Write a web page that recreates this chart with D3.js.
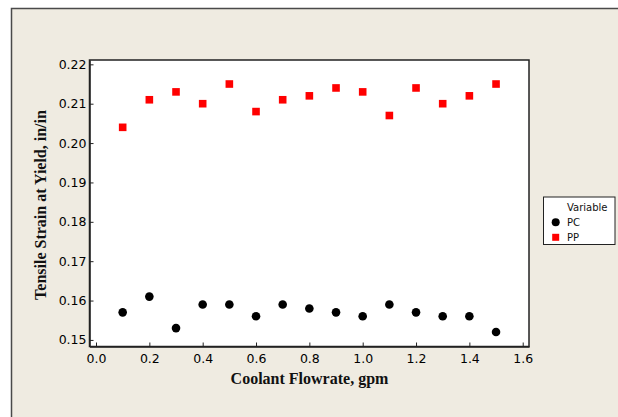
<!DOCTYPE html>
<html>
<head>
<meta charset="utf-8">
<script src="https://cdn.jsdelivr.net/npm/d3@7"></script>
<style>
  body { margin: 0; background: #fff; }
  svg { display: block; }
</style>
</head>
<body>
<div id="chart"></div>
<script>
// Tensile strain vs coolant flowrate - scatter

const flowrate = [0.1, 0.2, 0.3, 0.4, 0.5, 0.6, 0.7, 0.8, 0.9, 1.0, 1.1, 1.2, 1.3, 1.4, 1.5];
const pcValues = [0.157, 0.161, 0.153, 0.159, 0.159, 0.156, 0.159, 0.158, 0.157, 0.156, 0.159, 0.157, 0.156, 0.156, 0.152];
const ppValues = [0.204, 0.211, 0.213, 0.210, 0.215, 0.208, 0.211, 0.212, 0.214, 0.213, 0.207, 0.214, 0.210, 0.212, 0.215];
const xTicks = [0.0, 0.2, 0.4, 0.6, 0.8, 1.0, 1.2, 1.4, 1.6];
const yTicks = [0.15, 0.16, 0.17, 0.18, 0.19, 0.20, 0.21, 0.22];
const seriesNames = ['PC', 'PP'];

const width = 618;
const height = 417;
const plot = { left: 89.5, top: 60, right: 529, bottom: 346.5 };

const svg = d3.select('#chart')
    .append('svg')
    .attr('width', width)
    .attr('height', height);

// figure background + frame
svg.append('rect')
    .attr('x', 11).attr('y', 8.5)
    .attr('width', width).attr('height', height)
    .style('fill', '#efebe1');
svg.append('path')
    .attr('d', `M11.5,${height} V8.5 H${width}`)
    .style('fill', 'none')
    .style('stroke', '#4a4a4a')
    .style('stroke-width', 1.5);

const x = d3.scaleLinear().domain([-0.0244, 1.6236]).range([plot.left, plot.right]);
const y = d3.scaleLinear().domain([0.14833, 0.2211]).range([plot.bottom, plot.top]);

// plot area
svg.append('rect')
    .attr('x', plot.left).attr('y', plot.top)
    .attr('width', plot.right - plot.left)
    .attr('height', plot.bottom - plot.top)
    .style('fill', '#fff')
    .style('stroke', '#222')
    .style('stroke-width', 1.5);

// axes (ticks drawn inward)
const xAxis = svg.append('g')
    .attr('transform', `translate(0,${plot.bottom})`)
    .call(d3.axisBottom(x).tickValues(xTicks).tickFormat(d3.format('.1f'))
        .tickSizeInner(-4).tickSizeOuter(0).tickPadding(8));

const yAxis = svg.append('g')
    .attr('transform', `translate(${plot.left},0)`)
    .call(d3.axisLeft(y).tickValues(yTicks).tickFormat(d3.format('.2f'))
        .tickSizeInner(-4).tickSizeOuter(0).tickPadding(3));

[xAxis, yAxis].forEach(g => {
    g.select('.domain').style('stroke', '#222').style('stroke-width', 1.5);
    g.selectAll('.tick line').style('stroke', '#222');
    g.selectAll('.tick text')
        .style('font-family', '"DejaVu Sans", sans-serif')
        .style('font-size', '12.5px')
        .style('fill', '#000');
});

// axis titles
svg.append('text')
    .attr('x', 309.5).attr('y', 384)
    .attr('text-anchor', 'middle')
    .style('font-family', '"Liberation Serif", "Times New Roman", serif')
    .style('font-weight', 'bold')
    .style('font-size', '16px')
    .style('fill', '#111')
    .text('Coolant Flowrate, gpm');

svg.append('text')
    .attr('transform', 'translate(46,205) rotate(-90)')
    .attr('text-anchor', 'middle')
    .style('font-family', '"Liberation Serif", "Times New Roman", serif')
    .style('font-weight', 'bold')
    .style('font-size', '16px')
    .style('fill', '#111')
    .text('Tensile Strain at Yield, in/in');

// PC series: black circles
svg.append('g')
    .selectAll('circle')
    .data(flowrate.map((f, i) => ({ f, v: pcValues[i] })))
    .enter().append('circle')
    .attr('cx', d => x(d.f))
    .attr('cy', d => y(d.v))
    .attr('r', 4.3)
    .style('fill', '#000');

// PP series: red squares
const sq = 7.6;
svg.append('g')
    .selectAll('rect')
    .data(flowrate.map((f, i) => ({ f, v: ppValues[i] })))
    .enter().append('rect')
    .attr('x', d => x(d.f) - sq / 2)
    .attr('y', d => y(d.v) - sq / 2)
    .attr('width', sq)
    .attr('height', sq)
    .style('fill', '#ff0000');

// legend
const legend = svg.append('g');
legend.append('rect')
    .attr('x', 543.5).attr('y', 197)
    .attr('width', 71.5).attr('height', 47.5)
    .style('fill', '#fff')
    .style('stroke', '#222')
    .style('stroke-width', 1);

const legendFont = '"DejaVu Sans", sans-serif';
legend.append('text')
    .attr('x', 567).attr('y', 210.5)
    .style('font-family', legendFont)
    .style('font-size', '10px')
    .style('fill', '#111')
    .text('Variable');

seriesNames.forEach((name, i) => {
    const cy = 222.3 + i * 15;
    if (i === 0) {
        legend.append('circle').attr('cx', 555.7).attr('cy', cy).attr('r', 4).style('fill', '#000');
    } else {
        legend.append('rect').attr('x', 552.2).attr('y', cy - 3.5).attr('width', 7).attr('height', 7).style('fill', '#ff0000');
    }
    legend.append('text')
        .attr('x', 567).attr('y', cy + 3.8)
        .style('font-family', legendFont)
        .style('font-size', '10px')
        .style('fill', '#111')
        .text(name);
});
</script>
</body>
</html>
